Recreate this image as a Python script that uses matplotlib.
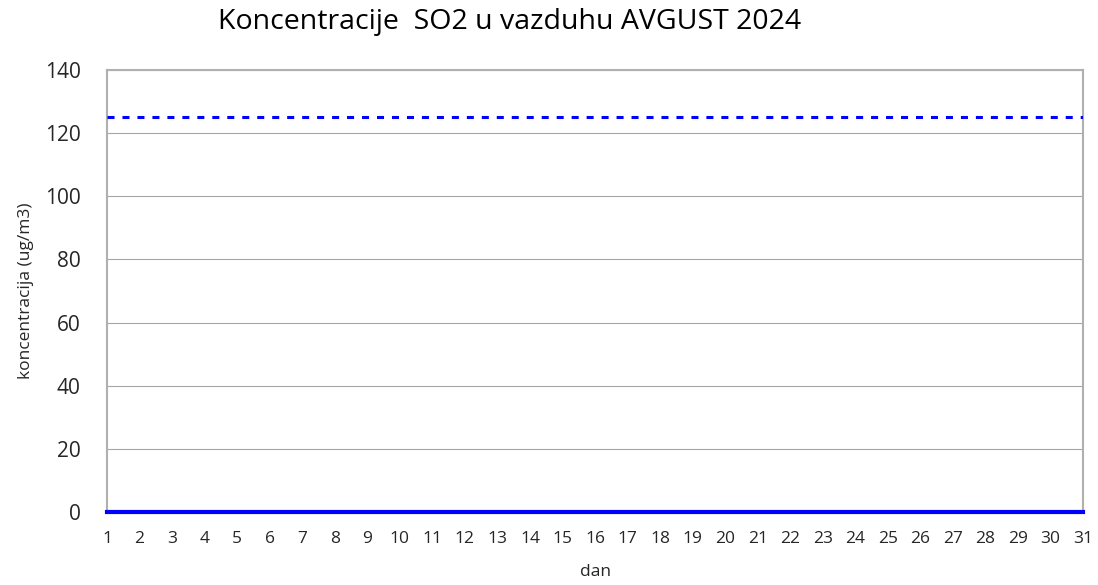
import matplotlib.pyplot as plt

plt.rcParams['font.family'] = ['Open Sans', 'DejaVu Sans']

# days of August 2024
days = list(range(1, 32))
# daily SO2 concentration (all zero)
so2 = [0] * 31
# daily limit value
limit = [125] * 31

fig = plt.figure(figsize=(10.98, 5.85), dpi=100)
ax = fig.add_axes([0.0975, 0.1248, 0.8888, 0.7555])

ax.plot(days, limit, color='#0000ff', linestyle=(0, (2.3, 2.6)), linewidth=2.2,
        dash_capstyle='butt', zorder=3)
ax.plot(days, so2, color='#0000ff', linewidth=3, zorder=3, clip_on=False)

ax.set_xlim(1, 31)
ax.set_ylim(0, 140)
ax.set_yticks(range(0, 141, 20))
ax.set_xticks(days)
ax.grid(axis='y', color='#a6a6a6', linewidth=0.8)
ax.tick_params(length=0, labelsize=12.5, colors='#262626')
ax.tick_params(axis='y', labelsize=15, pad=19)
ax.tick_params(axis='x', pad=14)
for s in ax.spines.values():
    s.set_color('#b0b0b0')
    s.set_linewidth(1.5)

ax.set_xlabel('dan', fontsize=12.5, color='#262626', labelpad=12)
ax.set_ylabel('koncentracija (ug/m3)', fontsize=12.5, color='#262626', labelpad=8)
fig.text(0.4645, 0.962, 'Koncentracije  SO2 u vazduhu AVGUST 2024', ha='center',
         va='center', fontsize=20.5, color='#000000')

fig.savefig('out.png', dpi=100)
